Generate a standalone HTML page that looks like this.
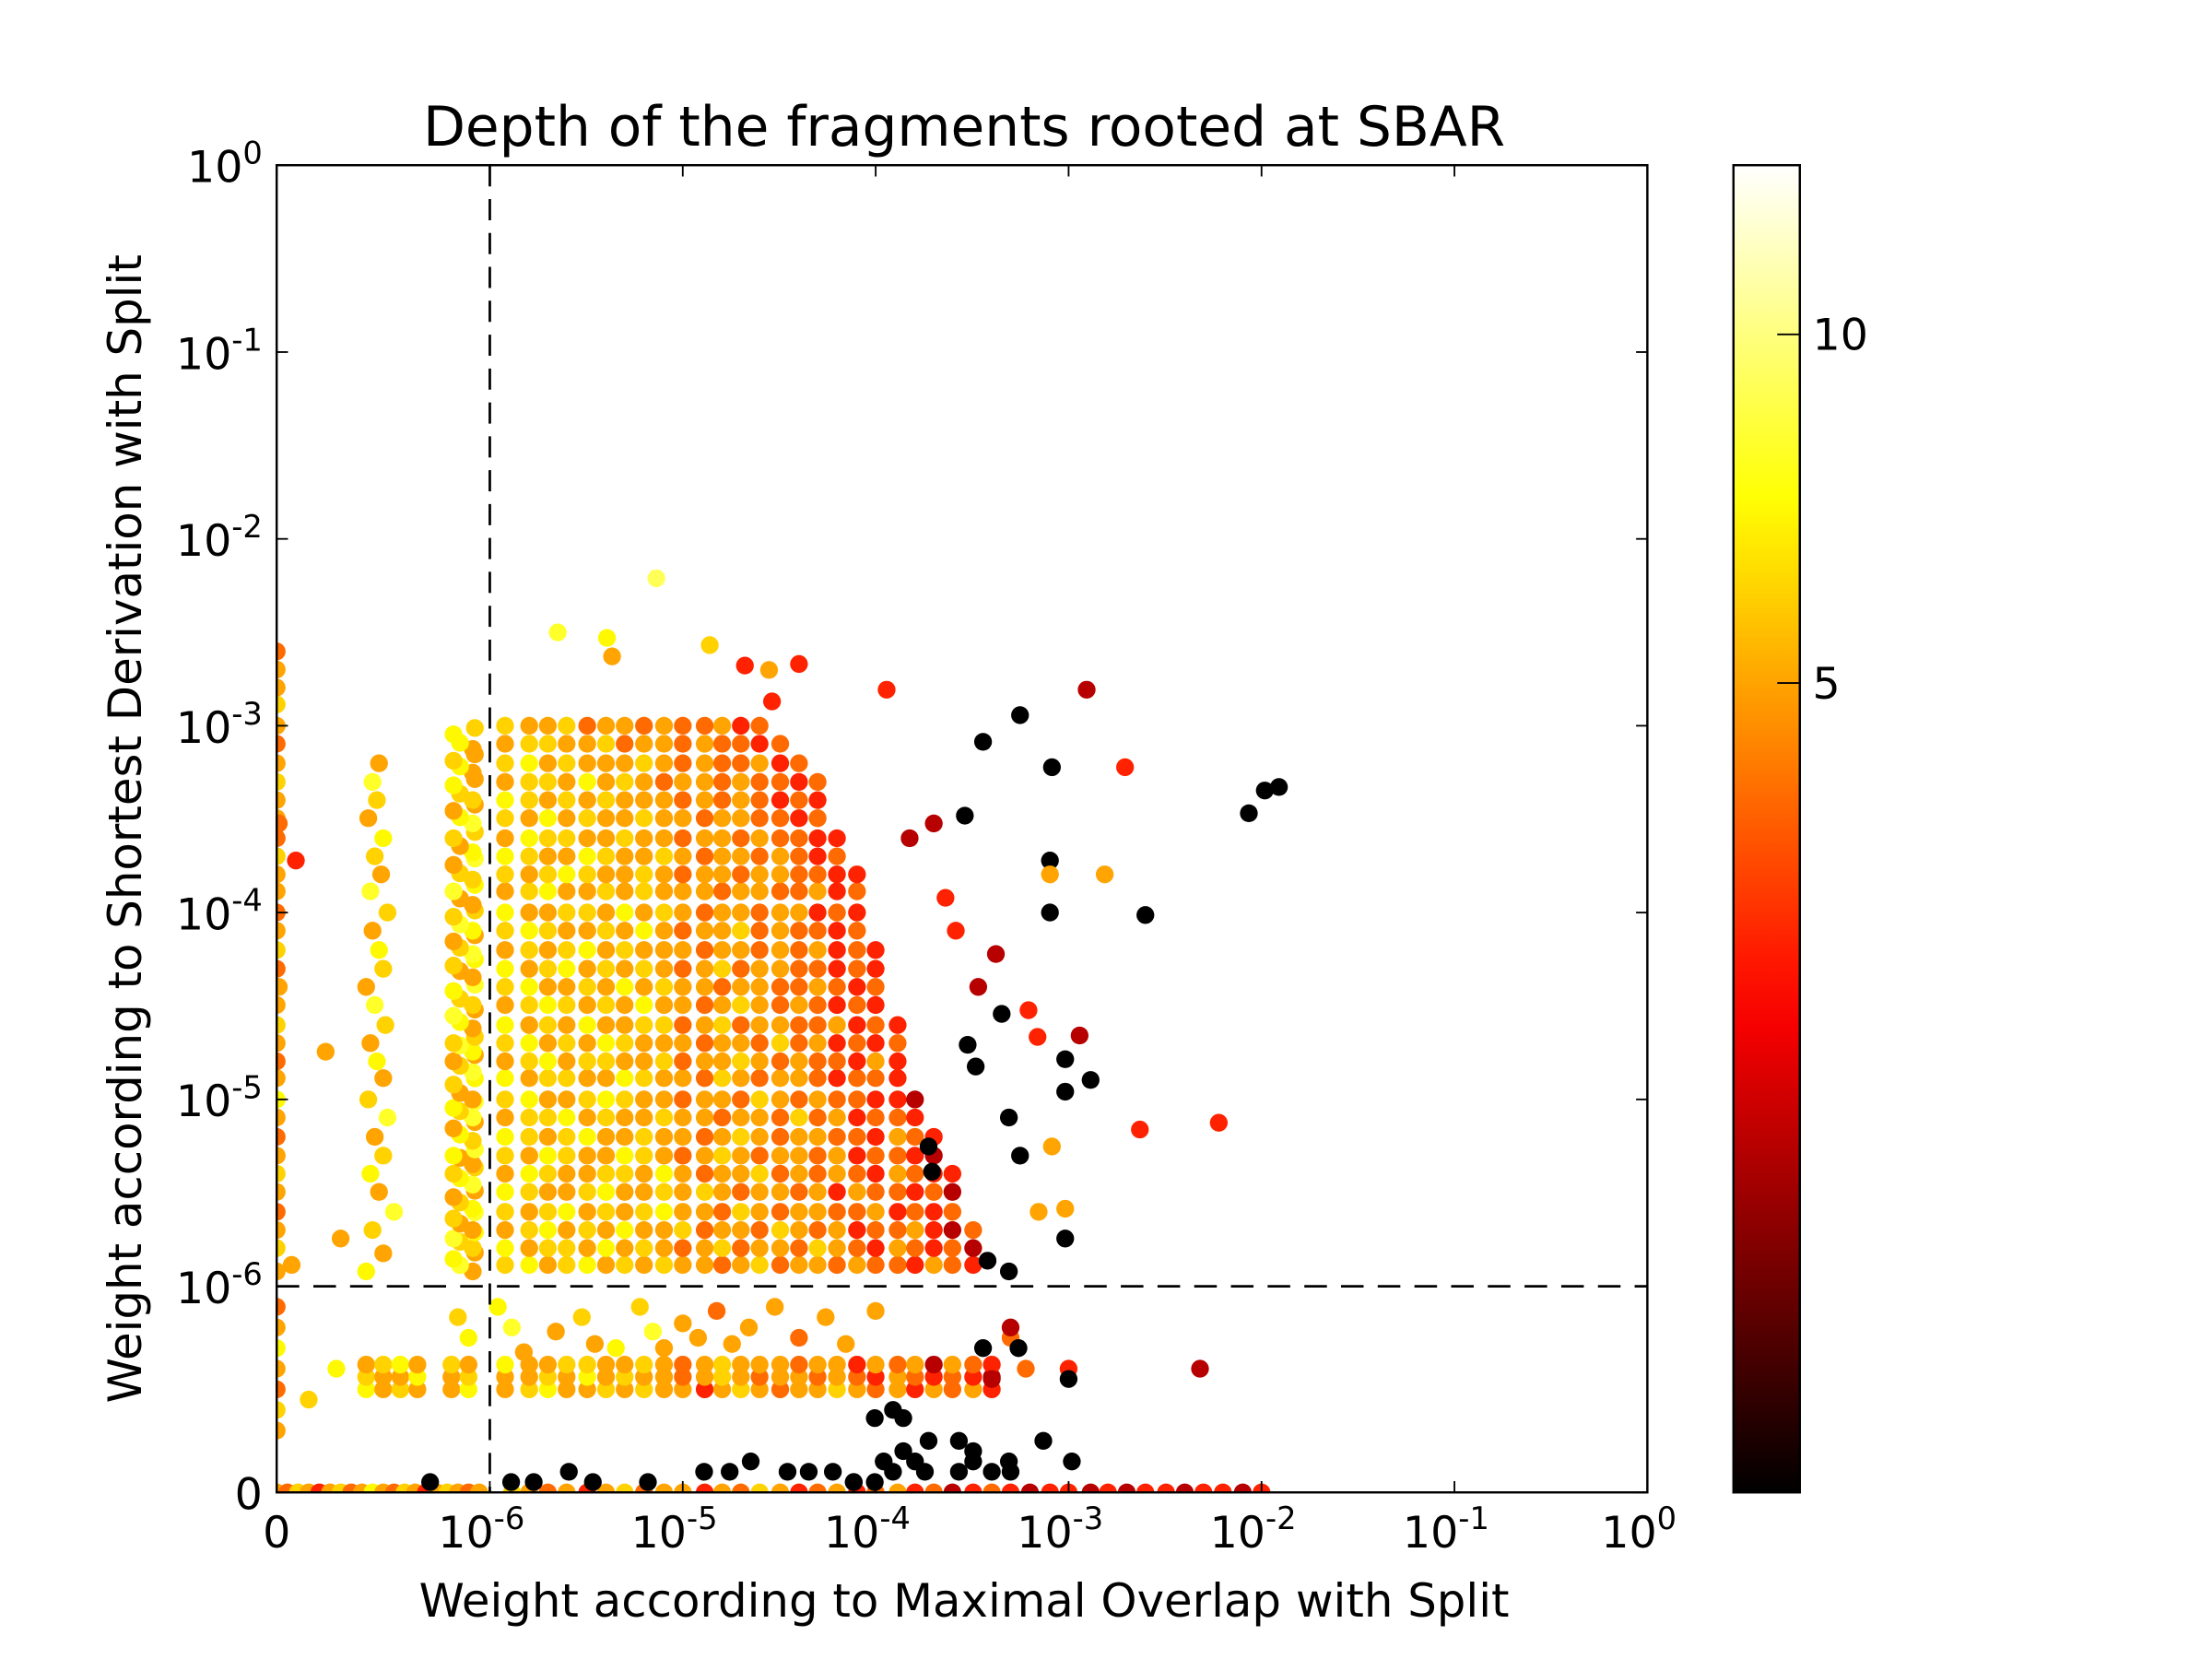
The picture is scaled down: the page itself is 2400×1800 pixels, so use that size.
<!DOCTYPE html>
<html><head><meta charset="utf-8"><style>
html,body{margin:0;padding:0;background:#fff;}
svg{display:block;font-family:"DejaVu Sans","Liberation Sans",sans-serif;}
</style></head><body>
<svg id="chart" width="2400" height="1800" viewBox="0 0 1567 1175" preserveAspectRatio="none" xmlns="http://www.w3.org/2000/svg">
<defs>
<clipPath id="axclip"><rect x="196" y="117" width="971" height="940"/></clipPath>
<linearGradient id="cbgrad" x1="0" y1="1" x2="0" y2="0"></linearGradient>
</defs>
<rect x="0" y="0" width="1567" height="1175" fill="#fff"/>
<text x="683" y="103" font-size="39" text-anchor="middle">Depth of the fragments rooted at SBAR</text>
<g id="points" clip-path="url(#axclip)"></g>
<g id="guides"></g>
<rect x="196" y="117" width="971" height="940" fill="none" stroke="#000" stroke-width="1.6"/>
<g id="ticks"></g>
<text x="683" y="1145" font-size="32.5" text-anchor="middle">Weight according to Maximal Overlap with Split</text>
<text transform="translate(100,587) rotate(-90)" font-size="32.5" text-anchor="middle">Weight according to Shortest Derivation with Split</text>
<rect id="cbbar" x="1228" y="117" width="47" height="940" fill="url(#cbgrad)" stroke="#000" stroke-width="1.6"/>
<g id="cbticks"></g>
</svg>
<script>
// values in units of 1e-6 (µ); x/y <=1 is the linear part of the symlog axis
const blobX=[1.2,1.6,2,2.5,3.2,4,5,6.3,8,10,13,16,20,25,32,40,50,63,80,100,130,160,200,250,320];
const blobY=[1.3,1.6,2,2.5,3.2,4,5,6.3,8,10,13,16,20,25,32,40,50,63,80,100,130,160,200,250,320,400,500,630,800,1000];
const blobDepth=[
[6,7,5,6,7,5,6,5,6,5,5,4,5,6,4,5,5,4,5,4,4,3,5,4,3],
[7,5,6,6,5,7,5,6,5,4,5,6,4,5,5,4,6,5,4,3,5,4,3,4,2],
[5,6,7,5,6,5,7,5,5,6,4,5,5,4,6,5,4,5,3,4,4,5,3,2,4],
[6,5,6,7,5,6,5,6,7,5,5,4,6,5,4,5,5,4,4,5,3,4,3,4],
[7,6,5,5,6,7,5,5,6,5,6,5,4,5,5,4,5,3,5,4,4,3,4,2],
[5,7,6,5,5,6,6,5,7,5,4,5,5,6,4,5,4,5,4,3,5,4,3,3],
[6,5,7,6,5,5,7,6,5,4,5,6,5,4,5,5,4,5,3,4,4,3,2],
[7,6,5,6,7,5,5,6,5,5,4,5,6,5,4,5,5,4,4,3,5,4,3],
[5,6,6,7,5,6,5,5,6,5,5,4,5,5,4,6,4,5,3,4,4,3],
[6,7,5,5,6,7,6,5,5,4,5,5,4,6,5,4,5,4,4,3,3,2],
[7,5,6,6,5,5,7,6,5,5,4,6,5,4,5,5,4,3,4,4,3],
[5,6,7,5,6,6,5,5,6,4,5,5,6,5,4,5,4,4,3,5,3],
[6,7,5,6,5,7,6,5,5,5,4,5,5,4,6,4,5,3,4,3,4],
[7,5,6,5,7,5,5,6,6,4,5,6,4,5,5,4,4,5,3,4,3],
[5,6,7,6,5,6,5,7,5,5,4,5,6,5,4,5,4,3,4,3],
[6,7,5,5,6,5,7,5,6,5,5,4,5,5,4,4,5,4,3,4],
[7,5,6,7,5,6,5,6,5,4,5,6,4,5,5,4,4,3,4,3],
[5,6,5,6,7,5,6,5,5,5,4,5,5,4,5,4,5,3,4,3],
[6,7,6,5,5,6,5,7,5,4,5,5,6,4,5,4,4,3,4],
[7,5,5,6,6,5,7,5,6,5,4,5,5,4,5,5,3,4,3],
[5,6,7,5,5,6,5,6,5,5,5,4,5,5,4,4,5,3,4],
[6,5,6,7,6,5,5,6,5,4,5,5,4,5,5,4,4,3,3],
[7,6,5,5,7,6,5,5,6,5,4,5,5,4,5,4,3,4],
[5,7,6,6,5,5,6,5,5,4,5,5,4,5,4,4,3,3],
[6,5,7,5,6,5,5,6,5,5,4,5,5,4,4,3,4],
[7,6,5,6,5,6,5,5,5,4,5,4,5,4,3,4,3],
[5,6,6,5,7,5,6,5,4,5,5,4,5,4,4,3,4],
[6,7,5,6,5,5,5,6,5,4,5,4,4,5,3,4],
[5,6,6,5,5,6,4,5,5,4,5,4,4,3,4],
[6,5,5,6,4,5,5,4,5,4,4,5,3,4]];
const bandX=[0.42,0.5,0.58,0.66,0.82,0.9,1.2,1.6,2,2.5,3.2,4,5,6.3,8,10,13,16,20,25,32,40,50,63,80,100,130,160,200,250,320,400];
const bandY=[0.5,0.56,0.62];
const bandDepth=[
[7,5,6,5,5,7,5,6,7,5,5,6,5,6,5,5,3,5,6,5,4,5,5,6,5,4,5,3,5,4,5,3],
[6,5,5,7,5,6,5,5,6,5,7,5,6,5,5,4,5,6,5,4,5,5,4,5,4,3,5,4,3,4,3,2],
[5,6,7,5,6,5,7,5,5,6,6,5,5,6,5,4,5,6,5,5,5,4,5,5,3,5,4,5,2,5,4,3]];
const leftColY=[1.2,1.5,2,2.5,3.2,4,5,6.3,8,10,13,16,20,25,32,40,50,63,80,100,130,160,200,250,320,400,500,630];
const leftColX=[0.42,0.5,0.45,0.55,0.48,0.44,0.5,0.46,0.52,0.43,0.5,0.47,0.44,0.51,0.46,0.42,0.5,0.48,0.45,0.52,0.44,0.49,0.46,0.5,0.43,0.47,0.45,0.48];
const leftColDepth=[7,5,6,8,5,7,6,5,8,6,5,7,5,6,8,5,6,7,5,6,8,5,6,7,5,6,8,5];
const midColY=[1.2,1.4,1.6,1.8,2,2.3,2.6,3,3.5,4,4.5,5,6,7,8,9,10,12,14,16,18,20,24,28,32,38,45,52,60,70,80,95,110,130,150,180,210,250,300,350,400,480,560,650,750,900];
const midColDepth=[5,7,6,8,5,6,7,5,8,6,5,7,6,5,8,7,5,6,8,5,7,6,5,8,6,7,5,6,8,5,7,6,5,8,6,5,7,6,8,5,6,7,5,6,5,7];
const edgeY=[0.3,0.4,0.5,0.6,0.7,0.8,0.9,1.2,1.6,2,2.5,3.2,4,5,6.3,8,10,13,16,20,25,32,40,50,63,80,100,130,160,200,250,320,400,500,630,800,1000,1300,1600,2000,2500];
const edgeDepth=[5,6,4,5,7,5,4,5,6,5,4,5,6,5,4,5,7,5,4,5,6,5,5,4,6,5,4,5,5,6,4,5,5,6,5,4,5,6,5,5,4];
const zeroRowX=[0,0.05,0.1,0.15,0.2,0.25,0.3,0.35,0.4,0.45,0.5,0.55,0.6,0.65,0.7,0.75,0.8,0.85,0.9,0.95,1.3,1.6,2,2.5,3.2,4,5,6.3,8,10,13,16,20,25,32,40,50,63,80,100,130,160,200,250,320,400,500,630,800,1000,1300,1600,2000,2500,3200,4000,5000,6300,8000,10000];
const zeroRowDepth=[5,4,6,5,3,5,6,4,5,7,5,4,6,5,3,5,6,5,4,5,6,5,4,5,3,5,6,4,5,5,3,5,4,6,5,3,4,5,3,4,5,3,4,2,3,4,3,2,3,3,2,3,2,3,3,2,3,3,2,3];
const extraX=[0.9,1.3,1.5,2.2,3,3.5,4.5,6,7,8,10,12,15,18,22,30,40,55,70,100,0.85,1.1,400,600,1000,1000,500,500,4800,0.01,0.01,0.09,0.23,0.07,0.15,0.3,0.28];
const extraY=[0.75,0.8,0.68,0.78,0.85,0.72,0.7,0.9,0.78,0.7,0.82,0.75,0.88,0.72,0.8,0.9,0.75,0.85,0.72,0.88,0.85,0.9,0.55,0.6,0.6,0.55,0.75,0.8,0.6,40,300,190,18,1.3,0.45,1.8,0.6];
const extraDepth=[7,8,5,5,6,5,7,6,8,5,5,5,4,5,5,5,4,5,5,5,6,7,2,4,3,1,4,2,2,5,4,3,5,5,6,5,7];
const outX=[7.3,2.25,4.05,4.3,13.8,40,28,21,29,114,1240,560,360,820,1960,8600,10400,12300,1540,2500,800,800,800,1300,960,960,690,1140,2340,6000,820,960,960,300,330,450,490,560,196,188,380,490,550,360,290,200,150,260,420,340,230,620,700,1.29,1.69,2.57,3.42,6.6,12.9,17.5,22.5,34.9,45,60,77,99,123,139,188,270,320,490,740,1040,0.72,77,99,110,123,139,160,180,270,320,400,500];
const outY=[6150,3160,2950,2350,2700,2140,1990,2100,1350,1560,1560,1140,820,600,600,340,450,470,160,97,190,160,100,12.7,11,16.4,21.6,22,6.9,7.5,5.6,1.8,2.6,19.6,15,28.7,8,5,4.1,5.6,1.37,1.2,0.7,0.7,330,300,250,80,60,40,120,30,2.5,0.05,0.05,0.1,0.05,0.05,0.1,0.1,0.15,0.1,0.1,0.1,0.05,0.36,0.4,0.36,0.25,0.25,0.2,0.15,0.25,0.15,0.05,0.05,0.05,0.15,0.1,0.2,0.15,0.1,0.1,0.15,0.1,0.1,0.1];
const outDepth=[9,8,7,5,6,3,5,3,3,3,2,1,1,1,3,1,1,1,5,1,1,5,1,1,1,1,3,2,3,3,5,1,5,1,1,1,1,1,1,1,1,1,1,1,1,2,2,3,2,2,3,3,5,1,1,1,1,1,1,1,1,1,1,1,1,1,1,1,1,1,1,1,1,1,1,1,1,1,1,1,1,1,1,1,1,1];
const xTickVals=[0,1,10,100,1000,10000,100000,1000000];
const xTickExp=["","-6","-5","-4","-3","-2","-1","0"];
const yTickVals=[0,1,10,100,1000,10000,100000,1000000];
const yTickExp=["","-6","-5","-4","-3","-2","-1","0"];
const cbTicks=[5,10];

const NS="http://www.w3.org/2000/svg";
const XL=196,XR=1167,YT=117,YB=1057,CBB=1057,CBT=117,DMIN=1,DMAX=14;
function sx(v){return v<=1?XL+v*151:347+Math.log10(v)*136.67;}
function sy(v){return v<=1?YB-v*146:911-Math.log10(v)*132.33;}
function cl(v){return Math.max(0,Math.min(1,v));}
function hotT(t){t=cl(t);return 'rgb('+Math.round(255*cl(t/0.365))+','+Math.round(255*cl((t-0.365)/0.381))+','+Math.round(255*cl((t-0.746)/0.254))+')';}
function normD(d){return Math.log(d/DMIN)/Math.log(DMAX/DMIN);}
function cbY(d){return CBB-normD(d)*(CBB-CBT);}
const pg=document.getElementById('points');
function dot(x,y,d,name){
  const c=document.createElementNS(NS,'circle');
  c.setAttribute('cx',sx(x).toFixed(1));c.setAttribute('cy',sy(y).toFixed(1));
  c.setAttribute('r','6.3');c.setAttribute('fill',hotT(normD(d)));
  
  
  pg.appendChild(c);
}
for(let i=0;i<edgeY.length;i++)dot(0,edgeY[i],edgeDepth[i],'edge-point');
for(let i=0;i<zeroRowX.length;i++)dot(zeroRowX[i],0,zeroRowDepth[i],'zero-row-point');
for(let r=0;r<blobY.length;r++){const ds=blobDepth[r];for(let i=0;i<ds.length&&i<blobX.length;i++)dot(blobX[i],blobY[r],ds[i],'blob-point');}
for(let r=0;r<bandY.length;r++){const ds=bandDepth[r];for(let i=0;i<ds.length;i++)dot(bandX[i],bandY[r],ds[i],'band-point');}
for(let i=0;i<leftColY.length;i++)dot(leftColX[i],leftColY[i],leftColDepth[i],'left-column-point');
for(let i=0;i<midColY.length;i++){dot(i%2?0.83:0.92,midColY[i],midColDepth[i],'mid-column-point');dot(i%2?0.93:0.86,midColY[i]*1.08,midColDepth[(i+3)%midColDepth.length],'mid-column-point');}
for(let i=0;i<extraX.length;i++)dot(extraX[i],extraY[i],extraDepth[i],'extra-point');
for(let i=0;i<outX.length;i++)dot(outX[i],outY[i],outDepth[i],'outlier-point');

const gg=document.getElementById('guides');
function line(g,x1,y1,x2,y2,w,dash,name){const l=document.createElementNS(NS,'line');l.setAttribute('x1',x1);l.setAttribute('y1',y1);l.setAttribute('x2',x2);l.setAttribute('y2',y2);l.setAttribute('stroke','#000');l.setAttribute('stroke-width',w);if(dash)l.setAttribute('stroke-dasharray',dash);


g.appendChild(l);}
line(gg,sx(1),YT,sx(1),YB,1.8,'15 9','vertical-threshold-line');
line(gg,XL,sy(1),XR,sy(1),1.8,'16 10','horizontal-threshold-line');

const tg=document.getElementById('ticks');
function label(g,x,y,base,exp,anchor,name){const t=document.createElementNS(NS,'text');t.setAttribute('x',x);t.setAttribute('y',y);t.setAttribute('font-size','31');t.setAttribute('text-anchor',anchor);


t.appendChild(document.createTextNode(base));if(exp){const s=document.createElementNS(NS,'tspan');s.setAttribute('font-size','22');s.setAttribute('dy','-13');s.textContent=exp;t.appendChild(s);}g.appendChild(t);}
for(let i=0;i<xTickVals.length;i++){const x=sx(xTickVals[i]);
  line(tg,x,YB,x,YB-8,1.2,null,'x-tick');line(tg,x,YT,x,YT+8,1.2,null,'x-tick-top');
  label(tg,xTickExp[i]?x-6:x,1096,xTickExp[i]?'10':'0',xTickExp[i],'middle','x-tick-label');}
for(let i=0;i<yTickVals.length;i++){const y=sy(yTickVals[i]);
  line(tg,XL,y,XL+8,y,1.2,null,'y-tick');line(tg,XR,y,XR-8,y,1.2,null,'y-tick-right');
  label(tg,186,y+12,yTickExp[i]?'10':'0',yTickExp[i],'end','y-tick-label');}

const gr=document.getElementById('cbgrad');
for(let k=0;k<=20;k++){const s=document.createElementNS(NS,'stop');s.setAttribute('offset',(k/20));s.setAttribute('stop-color',hotT(k/20));gr.appendChild(s);}
const cg=document.getElementById('cbticks');
for(let i=0;i<cbTicks.length;i++){const y=cbY(cbTicks[i]);line(cg,1275,y,1259,y,1.2,null,'colorbar-tick');label(cg,1284,y+11,String(cbTicks[i]),'','start','colorbar-tick-label');}
</script>
</body></html>
